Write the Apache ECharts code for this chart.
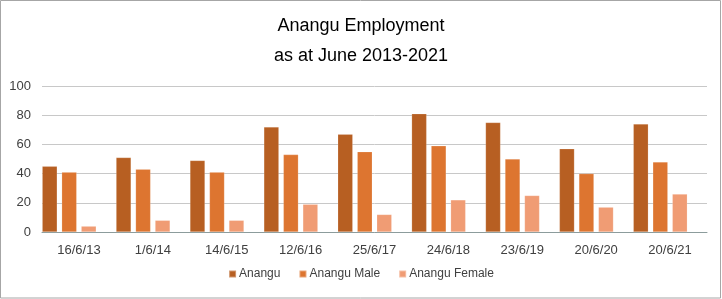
<!DOCTYPE html>
<html>
<head>
<meta charset="utf-8">
<script src="https://cdn.jsdelivr.net/npm/echarts@6/dist/echarts.min.js"></script>
<style>
html,body{margin:0;padding:0;background:#fff;}
#chart{width:722px;height:299px;}
</style>
</head>
<body>
<div id="chart"></div>
<script>
const categories = ['16/6/13','1/6/14','14/6/15','12/6/16','25/6/17','24/6/18','23/6/19','20/6/20','20/6/21'];
const anangu = [45, 51, 49, 72, 67, 81, 75, 57, 74];
const anguMale = [41, 43, 41, 53, 55, 59, 50, 40, 48];
const anguFemale = [4, 8, 8, 19, 12, 22, 25, 17, 26];
const seriesNames = ['Anangu', 'Anangu Male', 'Anangu Female'];
const yTicks = [0, 20, 40, 60, 80, 100];

const chart = echarts.init(document.getElementById('chart'), null, {renderer: 'canvas'});
const font = "'Liberation Sans',Arial,sans-serif";
const barStyle = (c) => ({color: c, borderColor: 'rgba(255,255,255,0.35)', borderWidth: 0.5});
chart.setOption({
  animation: false,
  title: {
    text: 'Anangu Employment\nas at June 2013-2021',
    left: 'center', top: 11, padding: 0,
    textStyle: {fontFamily: font, fontSize: 18, fontWeight: 500, color: '#000', lineHeight: 30}
  },
  graphic: [{
    type: 'rect', silent: true,
    shape: {x: 0.5, y: 0.5, width: 720, height: 297.5},
    style: {fill: 'none', stroke: '#a6a6a6', lineWidth: 1}
  }],
  legend: {
    data: seriesNames,
    bottom: 14, left: 'center',
    itemWidth: 7, itemHeight: 7, itemGap: 18,
    icon: 'rect',
    textStyle: {fontFamily: font, fontSize: 12, color: '#404040', padding: [0,0,0,-2]}
  },
  grid: {left: 42, right: 15, top: 86, bottom: 67, containLabel: false},
  xAxis: {
    type: 'category', data: categories,
    axisLine: {show: true, lineStyle: {color: '#8c9c9c', width: 1}},
    axisTick: {show: false},
    axisLabel: {fontFamily: font, fontSize: 13, color: '#404040', margin: 12}
  },
  yAxis: {
    type: 'value', min: 0, max: 100, interval: 20,
    axisLine: {show: false}, axisTick: {show: false},
    axisLabel: {fontFamily: font, fontSize: 13, color: '#404040', margin: 11,
      formatter: (v) => yTicks.includes(v) ? String(v) : ''},
    splitLine: {lineStyle: {color: '#c8c8c8', width: 1}}
  },
  series: [
    {name: seriesNames[0], type: 'bar', data: anangu, itemStyle: barStyle('#b75f22'), barWidth: 15, barGap: '30%', barCategoryGap: '0%'},
    {name: seriesNames[1], type: 'bar', data: anguMale, itemStyle: barStyle('#dd7530'), barWidth: 15},
    {name: seriesNames[2], type: 'bar', data: anguFemale, itemStyle: barStyle('#f09c74'), barWidth: 15},
    {name: 'spacer', type: 'bar', data: [], barWidth: 15}
  ]
});
</script>
</body>
</html>
